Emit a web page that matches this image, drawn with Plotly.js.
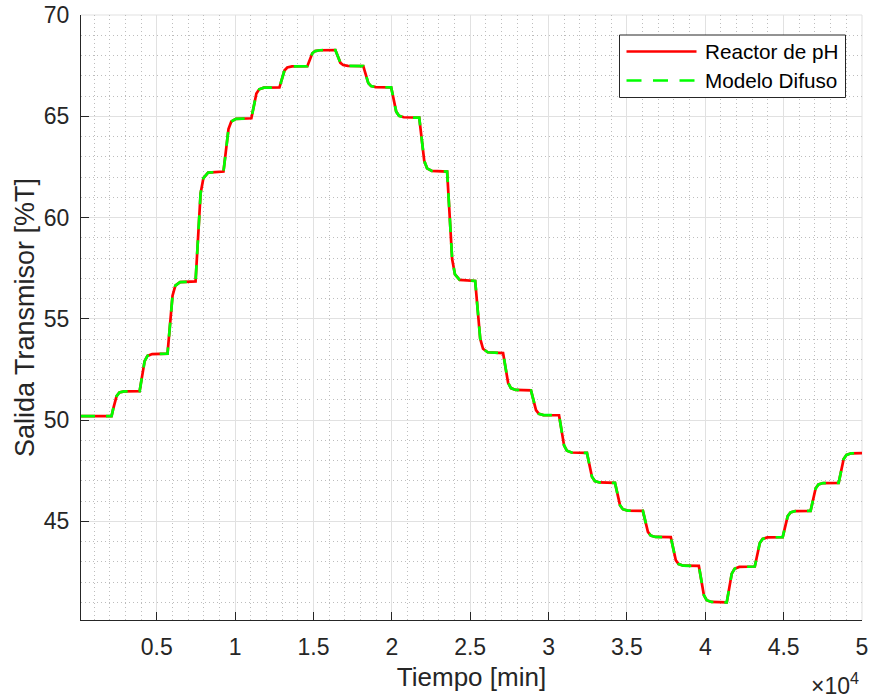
<!DOCTYPE html>
<html>
<head>
<meta charset="utf-8">
<script src="https://cdn.plot.ly/plotly-3.0.1.min.js"></script>
<style>
  html, body { margin: 0; padding: 0; background: #ffffff; }
  #chart { width: 869px; height: 698px; }
</style>
</head>
<body>
<div id="chart"></div>
<script>
// Tiempo [min]
const tiempo = [
  170, 2120, 2220, 2320, 2440, 2620, 2920,
  3910, 4010, 4110, 4230, 4410, 4710,
  5690, 5790, 5890, 6010, 6190, 6490,
  7480, 7580, 7680, 7800, 7980, 8280,
  9260, 9360, 9460, 9580, 9760, 10060,
  11040, 11140, 11240, 11360, 11540, 11840,
  12830, 12930, 13030, 13150, 13330, 13630,
  14610, 14710, 14810, 14930, 15110, 15410,
  16400, 16500, 16600, 16720, 16900, 17200,
  18180, 18280, 18380, 18500, 18680, 18980,
  19960, 20060, 20160, 20280, 20460, 20760,
  21750, 21850, 21950, 22070, 22250, 22550,
  23530, 23630, 23730, 23850, 24030, 24330,
  25320, 25420, 25520, 25640, 25820, 26120,
  27100, 27200, 27300, 27420, 27600, 27900,
  28880, 28980, 29080, 29200, 29380, 29680,
  30670, 30770, 30870, 30990, 31170, 31470,
  32450, 32550, 32650, 32770, 32950, 33250,
  34240, 34340, 34440, 34560, 34740, 35040,
  36020, 36120, 36220, 36340, 36520, 36820,
  37800, 37900, 38000, 38120, 38300, 38600,
  39590, 39690, 39790, 39910, 40090, 40390,
  41370, 41470, 41570, 41690, 41870, 42170,
  43160, 43260, 43360, 43480, 43660, 43960,
  44940, 45040, 45140, 45260, 45440, 45740,
  46720, 46820, 46920, 47040, 47220, 47520,
  48510, 48610, 48710, 48830, 49010, 49310,
  50000
];

// Salida Transmisor [%T] - Reactor de pH
const reactorPH = [
  50.20, 50.20, 50.54, 50.88, 51.18, 51.36, 51.42,
  51.43, 51.95, 52.45, 52.91, 53.17, 53.26,
  53.28, 54.28, 55.24, 56.14, 56.64, 56.81,
  56.85, 58.37, 59.83, 61.19, 61.95, 62.22,
  62.27, 63.01, 63.72, 64.37, 64.74, 64.87,
  64.90, 65.33, 65.74, 66.12, 66.33, 66.41,
  66.42, 66.71, 67.00, 67.26, 67.41, 67.46,
  67.47, 67.69, 67.91, 68.11, 68.22, 68.26,
  68.27, 68.05, 67.84, 67.64, 67.53, 67.49,
  67.48, 67.19, 66.90, 66.64, 66.49, 66.44,
  66.43, 66.01, 65.61, 65.23, 65.02, 64.95,
  64.93, 64.19, 63.47, 62.80, 62.43, 62.30,
  62.27, 60.76, 59.30, 57.95, 57.19, 56.92,
  56.87, 55.87, 54.91, 54.02, 53.52, 53.35,
  53.31, 52.80, 52.30, 51.84, 51.58, 51.49,
  51.47, 51.13, 50.79, 50.49, 50.31, 50.25,
  50.24, 49.72, 49.22, 48.75, 48.49, 48.40,
  48.38, 47.97, 47.57, 47.20, 46.99, 46.92,
  46.90, 46.51, 46.14, 45.80, 45.60, 45.53,
  45.52, 45.16, 44.81, 44.48, 44.30, 44.23,
  44.22, 43.82, 43.44, 43.08, 42.89, 42.81,
  42.80, 42.30, 41.81, 41.36, 41.11, 41.02,
  41.00, 41.50, 41.97, 42.42, 42.66, 42.75,
  42.77, 43.18, 43.57, 43.93, 44.13, 44.21,
  44.22, 44.58, 44.94, 45.26, 45.44, 45.51,
  45.52, 45.91, 46.28, 46.62, 46.82, 46.89,
  46.90, 47.31, 47.71, 48.08, 48.28, 48.36,
  48.37
];

// Salida Transmisor [%T] - Modelo Difuso (overlaps the reactor curve)
const modeloDifuso = reactorPH.slice();

const seriesNames = ['Reactor de pH', 'Modelo Difuso'];
const xTickValues = [5000, 10000, 15000, 20000, 25000, 30000, 35000, 40000, 45000, 50000];
const xTickLabels = ['0.5', '1', '1.5', '2', '2.5', '3', '3.5', '4', '4.5', '5'];
const yTickValues = [45, 50, 55, 60, 65, 70];

const FONT = 'Liberation Sans, Arial, Helvetica, sans-serif';
const AXC = '#262626';

const traces = [
  {
    x: tiempo, y: reactorPH, type: 'scatter', mode: 'lines',
    name: seriesNames[0],
    line: { color: '#ff0000', width: 2.7 },
    showlegend: false
  },
  {
    x: tiempo, y: modeloDifuso, type: 'scatter', mode: 'lines',
    name: seriesNames[1],
    line: { color: '#00ff00', width: 2.7, dash: '14px,11px' },
    showlegend: false
  }
];

// plot area in pixels: left 81, right 862, top 15, bottom 620
const L = 81, R = 862, T = 15, B = 620;
const px = v => (v - L) / (R - L);
const py = v => (B - v) / (B - T);

const minorGrid = { showgrid: true, gridcolor: '#bdbdbd', griddash: '1px,3px', gridwidth: 1, ticks: '' };

const layout = {
  width: 869, height: 698,
  margin: { l: L, r: 869 - R, t: T, b: 698 - B, pad: 0 },
  paper_bgcolor: '#ffffff', plot_bgcolor: '#ffffff',
  font: { family: FONT, color: AXC, size: 23 },
  showlegend: false,
  xaxis: {
    range: [170, 50000],
    tickmode: 'array', tickvals: xTickValues, ticktext: xTickLabels,
    ticks: 'inside', ticklen: 8, tickwidth: 1, tickcolor: AXC,
    tickfont: { family: FONT, size: 23, color: AXC },
    ticklabelstandoff: 6,
    showline: true, linecolor: AXC, linewidth: 1, mirror: false,
    showgrid: true, gridcolor: '#e1e1e1', gridwidth: 1,
    zeroline: false,
    minor: Object.assign({ tickmode: 'linear', tick0: 0, dtick: 1000 }, minorGrid),
    title: { text: 'Tiempo [min]', font: { family: FONT, size: 26, color: AXC }, standoff: 9 },
    automargin: false
  },
  yaxis: {
    range: [40.13, 70],
    tickmode: 'array', tickvals: yTickValues,
    ticks: 'inside', ticklen: 8, tickwidth: 1, tickcolor: AXC,
    tickfont: { family: FONT, size: 23, color: AXC },
    ticklabelstandoff: 6,
    showline: true, linecolor: AXC, linewidth: 1, mirror: false,
    showgrid: true, gridcolor: '#e1e1e1', gridwidth: 1,
    zeroline: false,
    minor: Object.assign({ tickmode: 'linear', tick0: 0, dtick: 1 }, minorGrid),
    title: { text: 'Salida Transmisor [%T]', font: { family: FONT, size: 27, color: AXC }, standoff: 1 },
    automargin: false
  },
  shapes: [
    // top and right plot edges (light grid colour)
    { type: 'line', xref: 'paper', yref: 'paper', x0: 0, x1: 1, y0: 1, y1: 1, line: { color: '#e1e1e1', width: 1 }, layer: 'below' },
    { type: 'line', xref: 'paper', yref: 'paper', x0: 1, x1: 1, y0: 0, y1: 1, line: { color: '#e1e1e1', width: 1 }, layer: 'below' },
    // legend box
    { type: 'rect', xref: 'paper', yref: 'paper', x0: px(619.5), x1: px(845.5), y0: py(97.5), y1: py(35), fillcolor: '#ffffff', line: { color: AXC, width: 1 } },
    { type: 'line', xref: 'paper', yref: 'paper', x0: px(626.5), x1: px(696.5), y0: py(51.5), y1: py(51.5), line: { color: '#ff0000', width: 2.7 } },
    { type: 'line', xref: 'paper', yref: 'paper', x0: px(626.5), x1: px(696.5), y0: py(80.5), y1: py(80.5), line: { color: '#00ff00', width: 2.7, dash: '15px,11.5px' } }
  ],
  annotations: [
    { xref: 'paper', yref: 'paper', x: px(703), y: py(51.5), xanchor: 'left', yanchor: 'middle', text: seriesNames[0], showarrow: false, font: { family: FONT, size: 20.7, color: '#000000' } },
    { xref: 'paper', yref: 'paper', x: px(703), y: py(80.5), xanchor: 'left', yanchor: 'middle', text: seriesNames[1], showarrow: false, font: { family: FONT, size: 20.7, color: '#000000' } },
    { xref: 'paper', yref: 'paper', x: px(861), y: py(684), xanchor: 'right', yanchor: 'middle', text: '×10<sup>4</sup>', showarrow: false, font: { family: FONT, size: 23, color: AXC } }
  ]
};

Plotly.newPlot('chart', traces, layout, { displayModeBar: false, staticPlot: true });
</script>
</body>
</html>
